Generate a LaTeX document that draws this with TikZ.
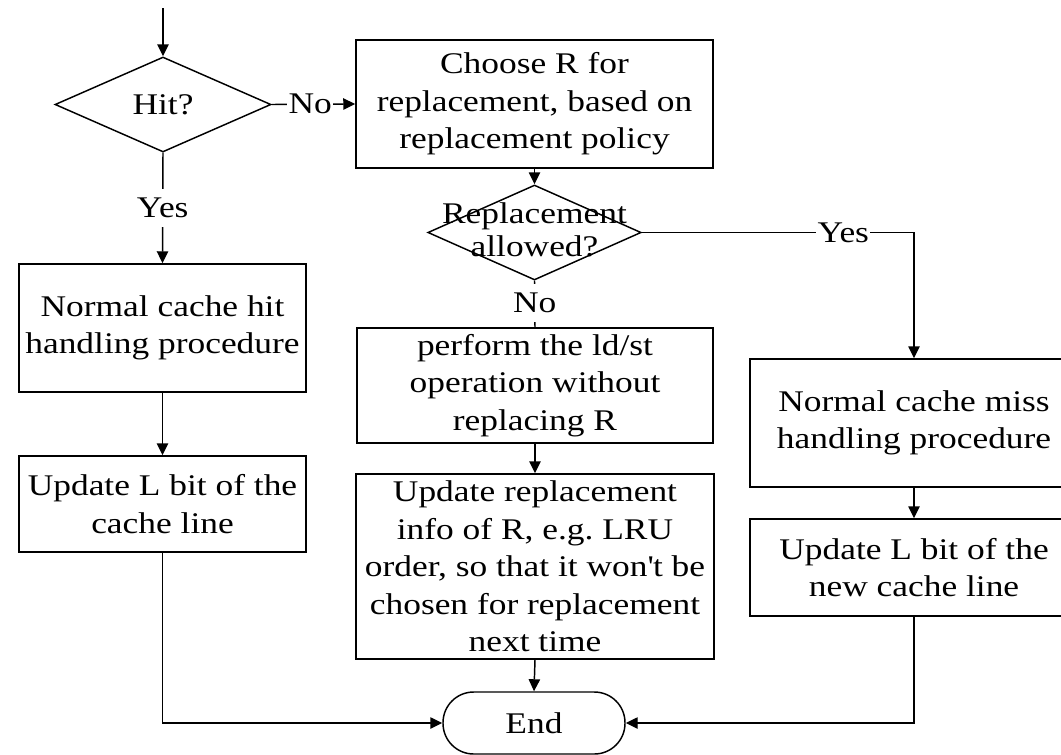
\documentclass[tikz,border=0pt]{standalone}
\usepackage{fontspec}
\setmainfont{Liberation Serif}[FakeStretch=1.18]
\usetikzlibrary{arrows.meta,shapes.geometric}
\frenchspacing
\begin{document}
\begin{tikzpicture}[x=0.75pt,y=-0.75pt,
  line width=1.1pt,
  font=\fontsize{22.5}{28.1}\selectfont,
  box/.style={draw, rectangle, align=center, inner sep=0pt},
  dec/.style={draw, diamond, inner sep=0pt},
  term/.style={draw, rectangle, rounded corners=23pt,
    minimum width=136.5pt, minimum height=46.5pt, inner sep=0pt},
  lbl/.style={fill=white, inner xsep=1pt, inner ysep=7pt},
  arr/.style={-{Triangle[length=9pt,width=8.5pt]}}
]
\useasboundingbox (0,0) rectangle (1061,754);
\clip (0,0) rectangle (1061,754);

% decisions
\coordinate (start) at (163,8);
\node[dec, minimum width=162pt, minimum height=71.25pt] (hit) at (163,104.5) {};
\node (hittxt) at (hit) {Hit?};
\node[dec, minimum width=160pt, minimum height=71.25pt] (rep) at (534.5,232.5) {};
\node[align=center, font=\fontsize{22.5}{24.75}\selectfont] (reptxt) at (534.5,229.5) {Replacement\\allowed?};

% process boxes
\node[box, minimum width=267.75pt, minimum height=96pt] (choose) at (534.5,104)
  {Choose R for\\replacement, based on\\replacement policy};
\node[box, minimum width=215.25pt, minimum height=96pt] (hitbox) at (162.5,328)
  {Normal cache hit\\handling procedure};
\node[box, minimum width=215.25pt, minimum height=72pt] (updl) at (162.5,504)
  {Update L bit of the\\cache line};
\node[box, minimum width=267pt, minimum height=86.25pt] (perf) at (535,385.5)
  {perform the ld/st\\operation without\\replacing R};
\node[box, minimum width=268.5pt, minimum height=138.75pt] (updr) at (535,566.5)
  {Update replacement\\info of R, e.g. LRU\\order, so that it won\textquotesingle t be\\chosen for replacement\\next time};
\node[box, minimum width=246pt, minimum height=96pt] (miss) at (914,423)
  {Normal cache miss\\handling procedure};
\node[box, minimum width=246pt, minimum height=72.75pt] (updl2) at (914,567.5)
  {Update L bit of the\\new cache line};
\node[term] (end) at (534,723) {End};

% connectors
\draw[arr] (start) -- (hit.north);
\draw[arr] (hit.east) -- node[lbl, pos=0.46] {No} (choose.west);
\draw[arr] (hit.south) -- node[lbl, pos=0.5] {Yes} (hitbox.north);
\draw[arr] (choose.south) -- (rep.north);
\draw[arr] (rep.east) -- node[lbl, pos=0.74] {Yes} (miss.north |- rep.east) -- (miss.north);
\draw (rep.south) -- node[lbl, pos=0.48] {No} (perf.north);
\draw[arr] (hitbox.south) -- (updl.north);
\draw[arr] (perf.south) -- (updr.north);
\draw[arr] (updr.south) -- (end.north);
\draw[arr] (miss.south) -- (updl2.north);
\draw[arr] (updl.south) |- (end.west);
\draw[arr] (updl2.south) |- (end.east);
\end{tikzpicture}
\end{document}
